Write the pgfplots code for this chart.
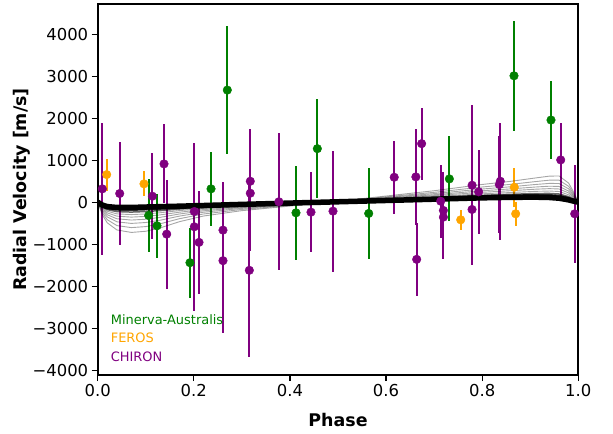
\documentclass[border=0pt]{standalone}
\usepackage{fontspec}
\setmainfont{DejaVu Sans}
\usepackage{pgfplots}
\usepackage{pgfplotstable}
\pgfplotsset{compat=1.18}
\usetikzlibrary{calc}

\definecolor{mgreen}{HTML}{008000}
\definecolor{morange}{HTML}{FFA500}
\definecolor{mpurple}{HTML}{800080}

% phase, rv [m/s], error
\pgfplotstableread{
ph rv err
0.106 -316 870
0.1234 -561 760
0.192 -1440 830
0.2358 318 880
0.2697 2670 1520
0.4126 -253 1120
0.457 1275 1180
0.5639 -268 1090
0.7317 555 1010
0.8662 3010 1310
0.9432 1957 940
}\minerva

\pgfplotstableread{
ph rv err
0.0187 658 380
0.0963 437 300
0.7553 -419 245
0.8668 356 460
0.8697 -276 280
}\feros

\pgfplotstableread{
ph rv err
0.0096 318 1570
0.0458 207 1230
0.1137 143 1030
0.138 912 940
0.1436 -760 1300
0.201 -221 1610
0.201 -585 2000
0.2108 -957 1220
0.2607 -665 1140
0.2607 -1392 1730
0.3155 -1622 2070
0.3175 499 1250
0.3175 214 1380
0.377 10 1630
0.4438 -237 950
0.4896 -213 1440
0.617 594 870
0.662 603 1140
0.6637 -1361 870
0.674 1394 860
0.7137 24 870
0.7193 -197 920
0.7193 -356 1000
0.7789 -173 1200
0.779 404 1900
0.7927 247 1000
0.8357 420 1150
0.8377 499 1390
0.9634 1007 880
0.9925 -276 1160
}\chiron

% model draws
\pgfplotstableread{
ph base c1 c2 c3 c4 c5 c6 c7 c8
0 0 0 0 0 0 0 0 0 0
0.01 -70 -308 -262 -222 -190 -162 -138 -114 -94
0.02 -105 -492 -417 -352 -300 -255 -216 -177 -144
0.04 -125 -661 -557 -467 -395 -332 -278 -224 -179
0.07 -125 -720 -605 -505 -425 -355 -295 -235 -185
0.1 -115 -692 -581 -484 -406 -338 -280 -222 -173
0.13 -106 -612 -514 -429 -361 -302 -251 -200 -157
0.17 -95 -464 -393 -331 -281 -238 -200 -163 -132
0.22 -79 -329 -281 -239 -205 -176 -150 -125 -104
0.3 -52 -201 -172 -147 -127 -110 -95 -80 -67
0.4 -21 -92 -79 -67 -57 -49 -41 -34 -28
0.5 10 22 20 19 17 16 14 12 12
0.6 41 147 127 111 97 85 73 61 53
0.7 72 273 235 205 178 156 133 110 95
0.8 104 422 362 314 272 236 200 164 140
0.86 116 498 426 368 318 274 231 188 159
0.91 120 576 490 421 361 309 258 206 172
0.94 112 621 525 448 381 323 266 208 170
0.96 95 625 525 445 375 315 255 195 155
0.98 55 453 378 318 265 220 175 130 100
0.99 25 248 206 172 143 117 92 67 50
1 0 0 0 0 0 0 0 0 0
}\models

\begin{document}
\begin{tikzpicture}
\begin{axis}[
  scale only axis,
  width=480.6bp, height=371bp,
  xmin=0, xmax=1, ymin=-4115, ymax=4720,
  axis line style={line width=2.2bp},
  xtick={0,0.2,0.4,0.6,0.8,1},
  xticklabels={0.0,0.2,0.4,0.6,0.8,1.0},
  ytick={-4000,-3000,-2000,-1000,0,1000,2000,3000,4000},
  yticklabels={−4000,−3000,−2000,−1000,0,1000,2000,3000,4000},
  tick align=outside, xtick pos=left, ytick pos=left,
  major tick length=6bp,
  tick style={line width=1.2bp, black},
  ticklabel style={font=\fontsize{16.5}{19}\selectfont},
  xlabel={Phase}, ylabel={Radial Velocity [m/s]},
  label style={font=\bfseries\fontsize{17.5}{20}\selectfont},
  xlabel style={at={(axis description cs:0.5,-0.121)}, anchor=center},
  ylabel style={at={(axis description cs:-0.158,0.5)}, anchor=center},
  error bars/error bar style={line width=2.1bp},
  error bars/error mark=none,
]
% error bars first
\addplot[mgreen, only marks, mark=none, error bars/.cd, y dir=both, y explicit]
  table[x=ph, y=rv, y error=err]{\minerva};
\addplot[morange, only marks, mark=none, error bars/.cd, y dir=both, y explicit]
  table[x=ph, y=rv, y error=err]{\feros};
\addplot[mpurple, only marks, mark=none, error bars/.cd, y dir=both, y explicit]
  table[x=ph, y=rv, y error=err]{\chiron};

% model curves
\foreach \c in {c1,c2,c3,c4,c5,c6} {
  \addplot[black, opacity=0.35, line width=0.9bp] table[x=ph, y=\c]{\models};
}
\addplot[black, opacity=0.6, line width=1.5bp] table[x=ph, y=c7]{\models};
\addplot[black, opacity=0.8, line width=2bp] table[x=ph, y=c8]{\models};
\addplot[black, line width=5.5bp] table[x=ph, y=base]{\models};

% markers on top
\addplot[only marks, mark=*, mark size=4.3bp, mgreen] table[x=ph, y=rv]{\minerva};
\addplot[only marks, mark=*, mark size=4.3bp, morange] table[x=ph, y=rv]{\feros};
\addplot[only marks, mark=*, mark size=4.3bp, mpurple] table[x=ph, y=rv]{\chiron};

\node[anchor=west, text=mgreen, font=\fontsize{13}{15}\selectfont] at (axis description cs:0.02,0.150) {Minerva-Australis};
\node[anchor=west, text=morange, font=\fontsize{13}{15}\selectfont] at (axis description cs:0.02,0.099) {FEROS};
\node[anchor=west, text=mpurple, font=\fontsize{13}{15}\selectfont] at (axis description cs:0.02,0.049) {CHIRON};

\coordinate (bl) at (rel axis cs:0,0);
\coordinate (tr) at (rel axis cs:1,1);
\end{axis}
\pgfresetboundingbox
\path ($(bl)+(-97.7bp,-59bp)$) rectangle ($(tr)+(34.7bp,4bp)$);
\end{tikzpicture}
\end{document}
